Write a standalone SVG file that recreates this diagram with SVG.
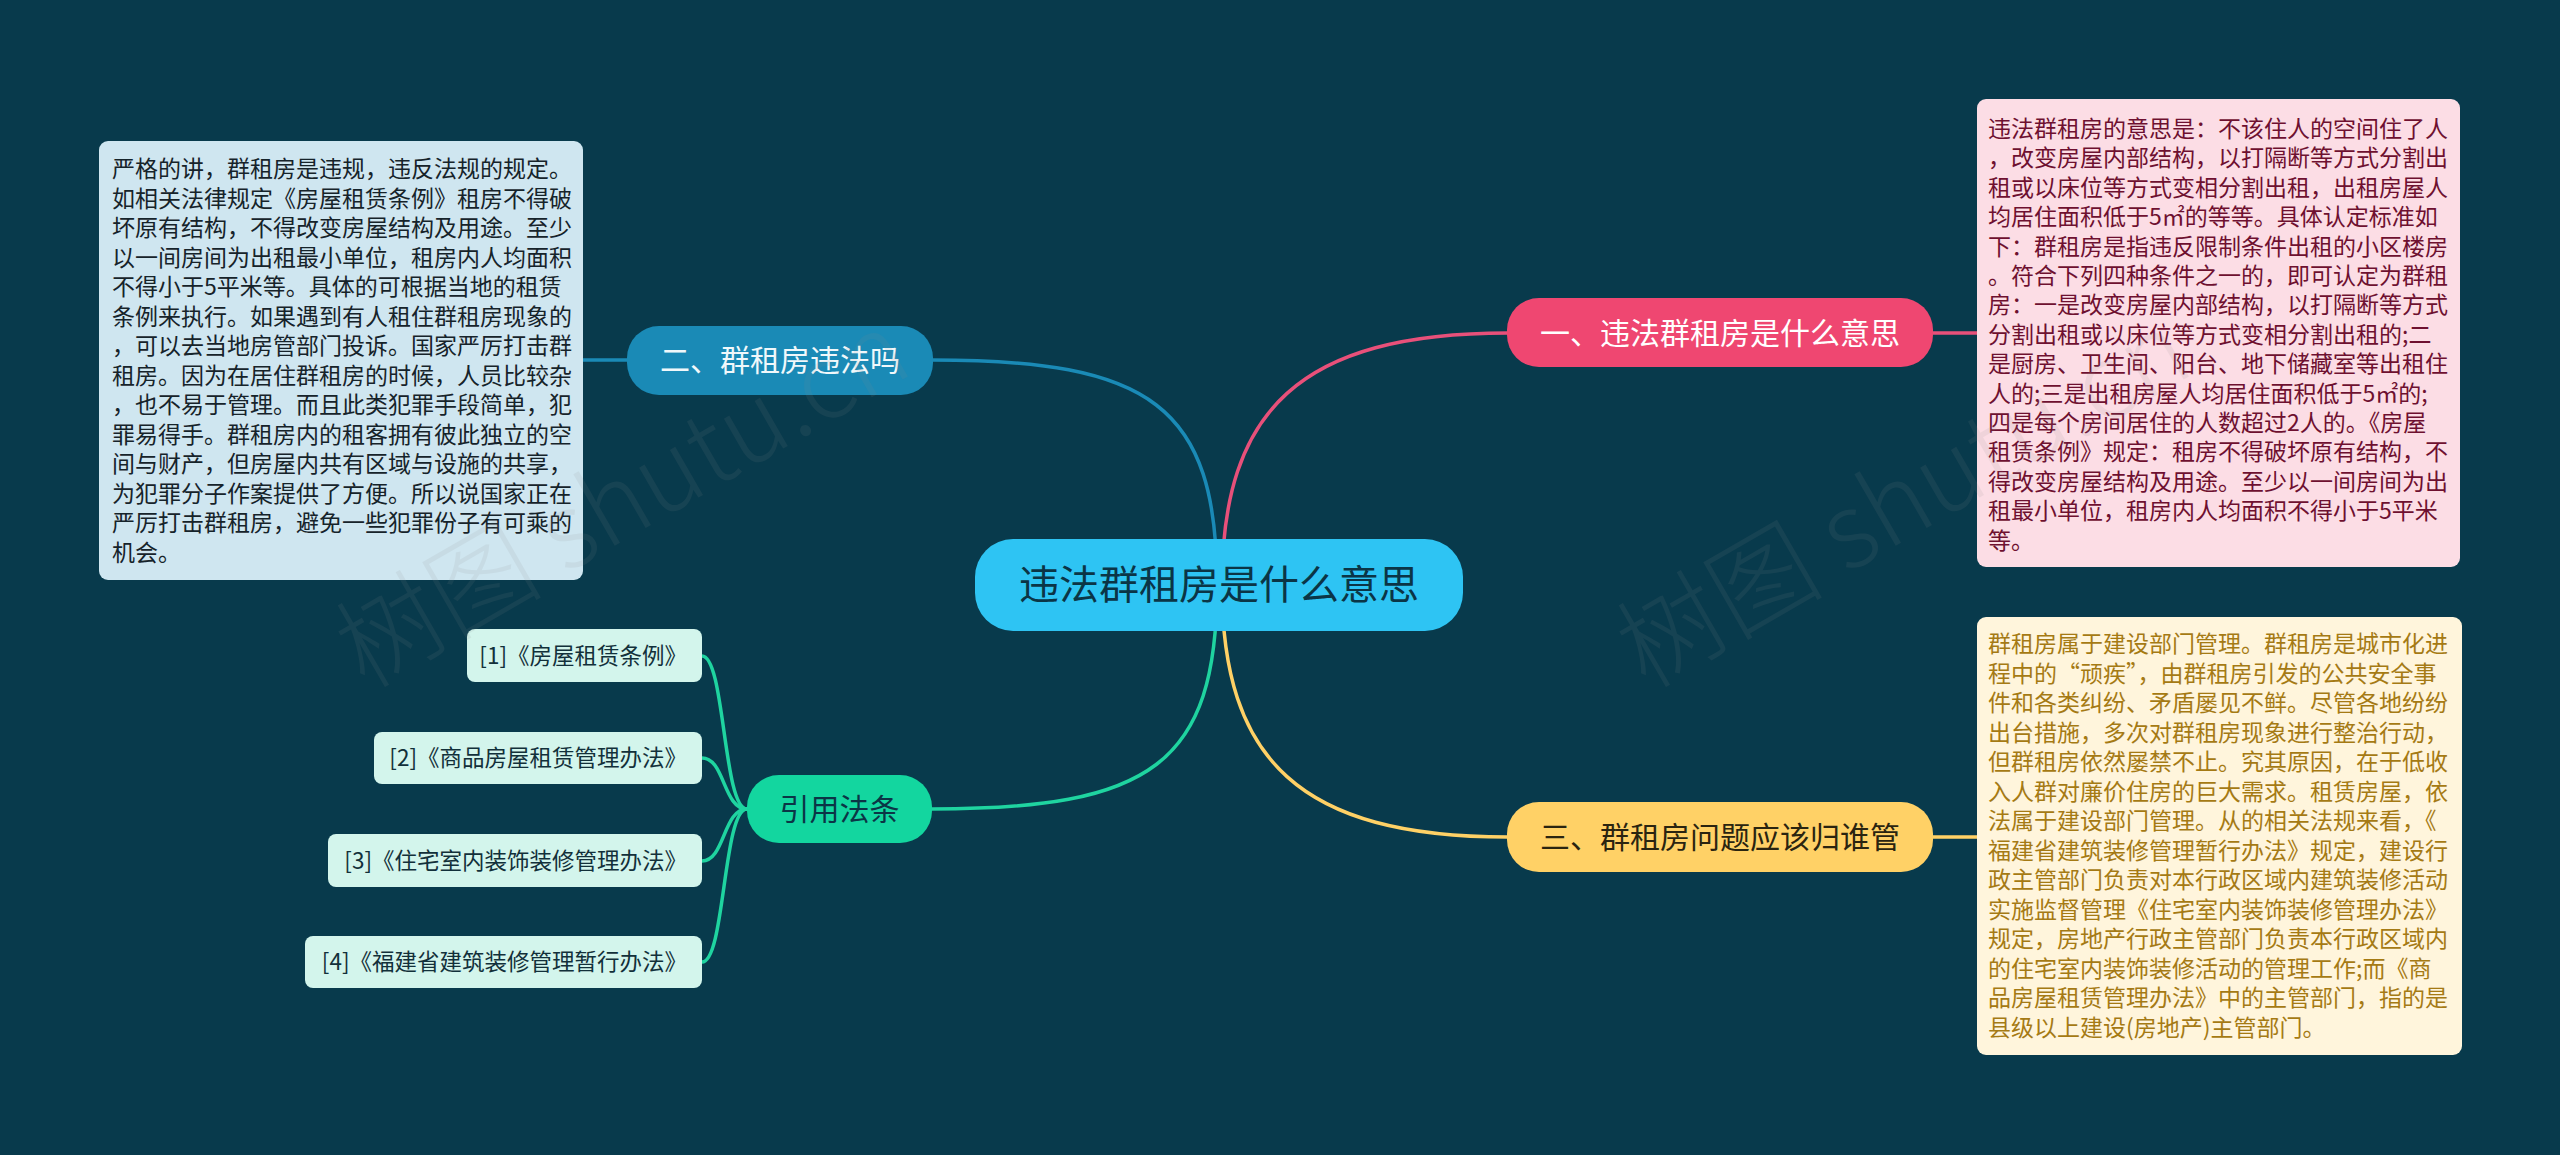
<svg xmlns="http://www.w3.org/2000/svg" width="2560" height="1155" viewBox="0 0 2560 1155">
<style>
text{font-family:"Noto Sans CJK SC","Noto Sans",sans-serif;}
.conn{fill:none;stroke-width:3.5;stroke-linecap:round;}
.main{font-size:30px;text-anchor:middle;}
.box{font-size:23px;}
.leaf rect{fill:#d3f5ec;}
.leaf text{font-size:22.5px;fill:#12303a;text-anchor:end;}
.wm{font-size:104px;fill:#8a8a8a;opacity:0.11;font-weight:300;}
</style>
<rect x="0" y="0" width="2560" height="1155" fill="#083a4c"/>
<g id="connectors">
<path class="conn" stroke="#e8507a" d="M1222,585 C1222,410 1300,333 1508,333"/>
<path class="conn" stroke="#1a8ab6" d="M1217,585 C1217,405 1150,360 932,360"/>
<path class="conn" stroke="#1fd4a0" d="M1217,585 C1217,765 1150,809 932,809"/>
<path class="conn" stroke="#ffd166" d="M1222,585 C1222,760 1300,837 1508,837"/>
<path class="conn" stroke="#e8507a" d="M1933,333 L1977,333"/>
<path class="conn" stroke="#ffd166" d="M1933,837 L1977,837"/>
<path class="conn" stroke="#1a8ab6" d="M627,360 L583,360"/>
<path class="conn" stroke="#1fd4a0" stroke-width="3" d="M747,809 C723,809 725,656 702,656"/>
<path class="conn" stroke="#1fd4a0" stroke-width="3" d="M747,809 C723,809 725,758 702,758"/>
<path class="conn" stroke="#1fd4a0" stroke-width="3" d="M747,809 C723,809 725,861 702,861"/>
<path class="conn" stroke="#1fd4a0" stroke-width="3" d="M747,809 C723,809 725,962 702,962"/>
</g>
<g id="center">
<rect x="975" y="539" width="488" height="92" rx="38" fill="#2ec4f3"/>
<text x="1219" y="599" font-size="40" text-anchor="middle" fill="#0b3546">违法群租房是什么意思</text>
</g>
<g id="n1">
<rect x="1507" y="298" width="426" height="69" rx="32" fill="#ef4771"/>
<text class="main" x="1720" y="344" fill="#ffffff">一、违法群租房是什么意思</text>
</g>
<g id="n2">
<rect x="627" y="326" width="306" height="69" rx="32" fill="#1a8ab6"/>
<text class="main" x="780" y="371" fill="#f0f8fb">二、群租房违法吗</text>
</g>
<g id="n3">
<rect x="1507" y="802" width="426" height="70" rx="32" fill="#ffd166"/>
<text class="main" x="1720" y="848" fill="#2a2410">三、群租房问题应该归谁管</text>
</g>
<g id="n4">
<rect x="747" y="775" width="185" height="68" rx="32" fill="#13d69f"/>
<text class="main" x="839.5" y="820" fill="#0b3546">引用法条</text>
</g>
<g id="d1">
<rect x="1977" y="99" width="483" height="468" rx="9" fill="#fcdde5"/>
<text class="box" fill="#6e1030">
<tspan x="1988" y="137">违法群租房的意思是：不该住人的空间住了人</tspan>
<tspan x="1988" y="166.4">，改变房屋内部结构，以打隔断等方式分割出</tspan>
<tspan x="1988" y="195.8">租或以床位等方式变相分割出租，出租房屋人</tspan>
<tspan x="1988" y="225.2">均居住面积低于5㎡的等等。具体认定标准如</tspan>
<tspan x="1988" y="254.6">下：群租房是指违反限制条件出租的小区楼房</tspan>
<tspan x="1988" y="284">。符合下列四种条件之一的，即可认定为群租</tspan>
<tspan x="1988" y="313.4">房：一是改变房屋内部结构，以打隔断等方式</tspan>
<tspan x="1988" y="342.8">分割出租或以床位等方式变相分割出租的;二</tspan>
<tspan x="1988" y="372.2">是厨房、卫生间、阳台、地下储藏室等出租住</tspan>
<tspan x="1988" y="401.6">人的;三是出租房屋人均居住面积低于5㎡的;</tspan>
<tspan x="1988" y="431">四是每个房间居住的人数超过2人的。《房屋</tspan>
<tspan x="1988" y="460.4">租赁条例》规定：租房不得破坏原有结构，不</tspan>
<tspan x="1988" y="489.8">得改变房屋结构及用途。至少以一间房间为出</tspan>
<tspan x="1988" y="519.2">租最小单位，租房内人均面积不得小于5平米</tspan>
<tspan x="1988" y="548.6">等。</tspan>
</text>
</g>
<g id="d2">
<rect x="99" y="141" width="484" height="439" rx="9" fill="#cfe6f0"/>
<text class="box" fill="#16232a">
<tspan x="112" y="177">严格的讲，群租房是违规，违反法规的规定。</tspan>
<tspan x="112" y="206.5">如相关法律规定《房屋租赁条例》租房不得破</tspan>
<tspan x="112" y="236">坏原有结构，不得改变房屋结构及用途。至少</tspan>
<tspan x="112" y="265.5">以一间房间为出租最小单位，租房内人均面积</tspan>
<tspan x="112" y="295">不得小于5平米等。具体的可根据当地的租赁</tspan>
<tspan x="112" y="324.5">条例来执行。如果遇到有人租住群租房现象的</tspan>
<tspan x="112" y="354">，可以去当地房管部门投诉。国家严厉打击群</tspan>
<tspan x="112" y="383.5">租房。因为在居住群租房的时候，人员比较杂</tspan>
<tspan x="112" y="413">，也不易于管理。而且此类犯罪手段简单，犯</tspan>
<tspan x="112" y="442.5">罪易得手。群租房内的租客拥有彼此独立的空</tspan>
<tspan x="112" y="472">间与财产，但房屋内共有区域与设施的共享，</tspan>
<tspan x="112" y="501.5">为犯罪分子作案提供了方便。所以说国家正在</tspan>
<tspan x="112" y="531">严厉打击群租房，避免一些犯罪份子有可乘的</tspan>
<tspan x="112" y="560.5">机会。</tspan>
</text>
</g>
<g id="d3">
<rect x="1977" y="617" width="485" height="438" rx="9" fill="#fff5dc"/>
<text class="box" fill="#a57a14">
<tspan x="1988" y="652">群租房属于建设部门管理。群租房是城市化进</tspan>
<tspan x="1988" y="681.5">程中的“顽疾”，由群租房引发的公共安全事</tspan>
<tspan x="1988" y="711">件和各类纠纷、矛盾屡见不鲜。尽管各地纷纷</tspan>
<tspan x="1988" y="740.5">出台措施，多次对群租房现象进行整治行动，</tspan>
<tspan x="1988" y="770">但群租房依然屡禁不止。究其原因，在于低收</tspan>
<tspan x="1988" y="799.5">入人群对廉价住房的巨大需求。租赁房屋，依</tspan>
<tspan x="1988" y="829">法属于建设部门管理。从的相关法规来看，《</tspan>
<tspan x="1988" y="858.5">福建省建筑装修管理暂行办法》规定，建设行</tspan>
<tspan x="1988" y="888">政主管部门负责对本行政区域内建筑装修活动</tspan>
<tspan x="1988" y="917.5">实施监督管理《住宅室内装饰装修管理办法》</tspan>
<tspan x="1988" y="947">规定，房地产行政主管部门负责本行政区域内</tspan>
<tspan x="1988" y="976.5">的住宅室内装饰装修活动的管理工作;而《商</tspan>
<tspan x="1988" y="1006">品房屋租赁管理办法》中的主管部门，指的是</tspan>
<tspan x="1988" y="1035.5">县级以上建设(房地产)主管部门。</tspan>
</text>
</g>
<g id="l1" class="leaf">
<rect x="467" y="629" width="235" height="53" rx="8"/>
<text x="687" y="663.5">[1]《房屋租赁条例》</text>
</g>
<g id="l2" class="leaf">
<rect x="374" y="732" width="328" height="52" rx="8"/>
<text x="687" y="766">[2]《商品房屋租赁管理办法》</text>
</g>
<g id="l3" class="leaf">
<rect x="328" y="834" width="374" height="53" rx="8"/>
<text x="687" y="868.5">[3]《住宅室内装饰装修管理办法》</text>
</g>
<g id="l4" class="leaf">
<rect x="305" y="936" width="397" height="52" rx="8"/>
<text x="687" y="970">[4]《福建省建筑装修管理暂行办法》</text>
</g>
<g id="watermark">
<text class="wm" x="365" y="690" transform="rotate(-30 365 690)">树图 shutu.cn</text>
<text class="wm" x="1646" y="690" transform="rotate(-30 1646 690)">树图 shutu.cn</text>
</g>
</svg>
